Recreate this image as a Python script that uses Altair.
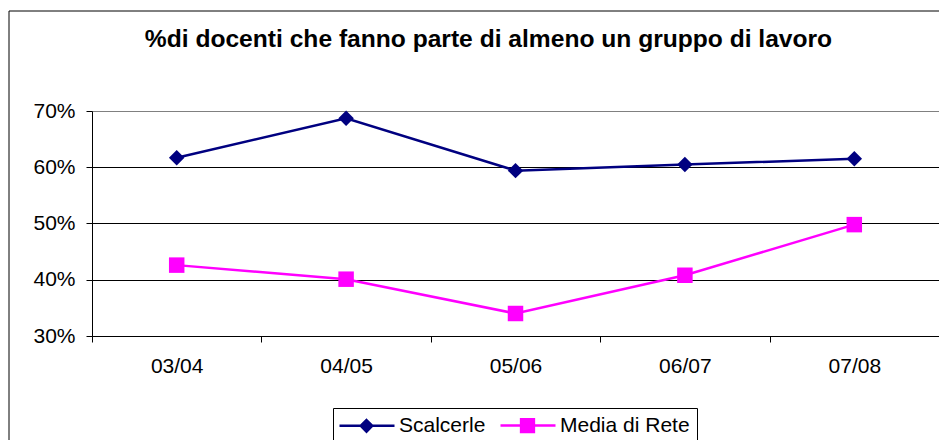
import altair as alt
import pandas as pd

# ---- data ----
years = ["03/04", "04/05", "05/06", "06/07", "07/08"]
scalcerle = [0.617, 0.687, 0.594, 0.605, 0.615]
media_rete = [0.426, 0.401, 0.340, 0.408, 0.498]
series = ["Scalcerle", "Media di Rete"]
colors = ["#000080", "#FF00FF"]
point_shapes = ["diamond", "square"]
legend_shapes = [
    "M-1.375,0H5.5M2.0,-0.72L2.72,0L2.0,0.72L1.28,0Z",
    "M-1.375,0H5.5M1.2,-0.8H2.8V0.8H1.2Z",
]
y_ticks = [0.3, 0.4, 0.5, 0.6, 0.7]
title_text = "%di docenti che fanno parte di almeno un gruppo di lavoro"

rows = []
for name, vals in zip(series, [scalcerle, media_rete]):
    for yr, v in zip(years, vals):
        rows.append({"Anno": yr, "Serie": name, "Valore": v})
df = pd.DataFrame(rows)

FONT = "Liberation Sans"

x_enc = alt.X(
    "Anno:N",
    sort=years,
    scale=alt.Scale(type="band", domain=years, paddingInner=0, paddingOuter=0),
    axis=alt.Axis(
        title=None, labelAngle=0, tickBand="extent", grid=False,
        domainColor="black", tickColor="black", tickSize=6,
        labelFontSize=21, labelColor="black", labelFont=FONT, labelPadding=13,
    ),
)
y_enc = alt.Y(
    "Valore:Q",
    scale=alt.Scale(domain=[0.3, 0.7], nice=False, zero=False),
    axis=alt.Axis(
        title=None, values=y_ticks, format=".0%", grid=True,
        gridColor={"condition": {"test": "datum.value >= 0.7", "value": "#808080"}, "value": "black"},
        gridWidth=1, domainColor="black", tickColor="black", tickSize=6,
        labelFontSize=21, labelColor="black", labelFont=FONT, labelPadding=11,
    ),
)

# line / point colours (domain listed in reverse so its legend stays separate)
line_color_scale = alt.Scale(domain=series[::-1], range=colors[::-1])
legend_def = alt.Legend(
    title=None, orient="none", legendX=241, legendY=297,
    direction="horizontal", padding=7, strokeColor="black", fillColor="white",
    symbolSize=256, symbolStrokeWidth=2.5, labelOffset=38, columnPadding=9,
    labelFontSize=21, labelFont=FONT, labelColor="black", symbolOpacity=1,
)

base = alt.Chart(df)

border = alt.Chart(alt.Data(values=[{}])).mark_rect(
    fillOpacity=0, stroke="black", strokeWidth=1
).encode(
    x=alt.value(-83), x2=alt.value(880), y=alt.value(-100), y2=alt.value(340)
)

lines = base.mark_line(strokeWidth=2.5).encode(
    x=x_enc, y=y_enc,
    color=alt.Color("Serie:N", scale=line_color_scale, legend=None),
    detail="Serie:N",
)

point_layers = []
for name, shp in zip(series, point_shapes):
    point_layers.append(
        base.transform_filter(alt.datum.Serie == name)
        .mark_point(shape=shp, filled=True, size=240, opacity=1)
        .encode(
            x=x_enc, y=y_enc,
            color=alt.Color("Serie:N", scale=line_color_scale, legend=None),
        )
    )

legend_layer = base.transform_filter("false").mark_point(
    filled=True, opacity=1, strokeWidth=2.5
).encode(
    x=x_enc, y=y_enc,
    fill=alt.Fill("Serie:N", scale=alt.Scale(domain=series, range=colors), legend=legend_def),
    stroke=alt.Stroke("Serie:N", scale=alt.Scale(domain=series, range=colors), legend=legend_def),
    shape=alt.Shape("Serie:N", scale=alt.Scale(domain=series, range=legend_shapes), legend=legend_def),
)

chart = alt.layer(border, lines, *point_layers, legend_layer).properties(
    width=847,
    height=225,
    title=alt.TitleParams(
        text=title_text, fontSize=24.6, fontWeight="bold", font=FONT,
        color="black", anchor="middle", offset=-42, dx=-27,
    ),
    padding={"left": 84, "top": 103, "right": 0, "bottom": 104},
    autosize=alt.AutoSizeParams(type="none"),
).configure_view(
    stroke="#808080", strokeWidth=1
).configure(
    font=FONT, background="white"
)

chart.save("out.html", embed_options={"renderer": "svg", "actions": False})
